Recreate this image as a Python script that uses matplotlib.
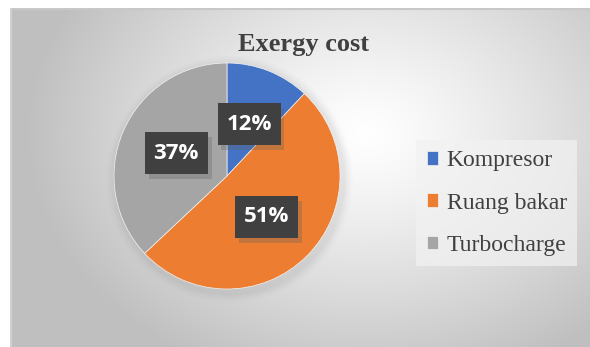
import numpy as np
import matplotlib
matplotlib.use("Agg")
import matplotlib.pyplot as plt
from matplotlib.patches import Circle, Rectangle

# data
labels = ["Kompresor", "Ruang bakar", "Turbocharge"]
values = [12, 51, 37]
colors = ["#4472C4", "#ED7D31", "#A5A5A5"]
# where Excel placed the data labels (pie data coords)
label_pos = [(0.195, 0.46), (0.35, -0.36), (-0.45, 0.20)]

W, H = 590, 347
fig = plt.figure(figsize=(W / 100, H / 100), dpi=100)
fig.patch.set_facecolor("white")

# chart area with radial gradient background
bg = fig.add_axes([10 / W, 0, 1 - 10 / W, 1 - 8 / H])
bg.set_axis_off()
yy, xx = np.mgrid[0:339, 0:580]
cx, cy = 355, 125
d = np.sqrt(((xx - cx) / 340.0) ** 2 + ((yy - cy) / 260.0) ** 2)
d = np.clip(d, 0, 1)
val = 1.0 - 0.25 * d ** 1.2
img = np.dstack([val, val, val])
bg.imshow(img, aspect="auto", extent=[0, 580, 339, 0], interpolation="bilinear")
bg.plot([0, 580], [0.5, 0.5], color="#c8c8c8", lw=1.5)
bg.plot([0.5, 0.5], [0, 339], color="#d0d0d0", lw=1.5)
bg.set_xlim(0, 580)
bg.set_ylim(339, 0)

fig.text(303 / W, 1 - 45 / H, "Exergy cost", ha="center", va="center",
         fontsize=19, fontweight="bold", family="Liberation Serif", color="#404040")

# pie, radius 113 px centred at (227, 176); axes spans +-1.25 radii
R = 113
ax = fig.add_axes([(227 - 1.25 * R) / W, (347 - 176 - 1.25 * R) / H, 2.5 * R / W, 2.5 * R / H])
ax.set_axis_off()
# soft shadow around the pie
for r, a in [(1.09, 0.02), (1.07, 0.03), (1.05, 0.04), (1.03, 0.05)]:
    ax.add_patch(Circle((0.02, -0.03), r, color="#707070", alpha=a, lw=0, zorder=0))
wedges, _ = ax.pie(values, colors=colors, startangle=90, counterclock=False,
                   wedgeprops=dict(linewidth=0.5, edgecolor="#f4f4f4", zorder=1))
ax.set_aspect("auto")
ax.set_xlim(-1.25, 1.25)
ax.set_ylim(-1.25, 1.25)

# data label boxes: 63 x 42 px
bw, bh = 63 / R, 42 / R
for v, (px, py) in zip(values, label_pos):
    ax.add_patch(Rectangle((px - bw / 2 + 0.035, py - bh / 2 - 0.045), bw, bh,
                           fc="#606060", ec="none", alpha=0.3, zorder=3))
    ax.add_patch(Rectangle((px - bw / 2, py - bh / 2), bw, bh,
                           fc="#404040", ec="none", zorder=4))
    ax.text(px, py, "%d%%" % v, ha="center", va="center", zorder=5,
            fontsize=16, fontweight="bold", family="Open Sans", color="white")

leg = fig.legend(wedges, labels, loc="center left",
                 bbox_to_anchor=(416 / W, 1 - 203 / H), borderaxespad=0,
                 prop=dict(family="Liberation Serif", size=17),
                 frameon=True, fancybox=False, handlelength=0.5, handleheight=0.5,
                 handletextpad=0.35, labelspacing=0.9, borderpad=0.45)
leg.get_frame().set_facecolor("#f2f2f2")
leg.get_frame().set_edgecolor("none")
leg.get_frame().set_alpha(0.7)
for t in leg.get_texts():
    t.set_color("#404040")

fig.savefig("out.png", dpi=100)
